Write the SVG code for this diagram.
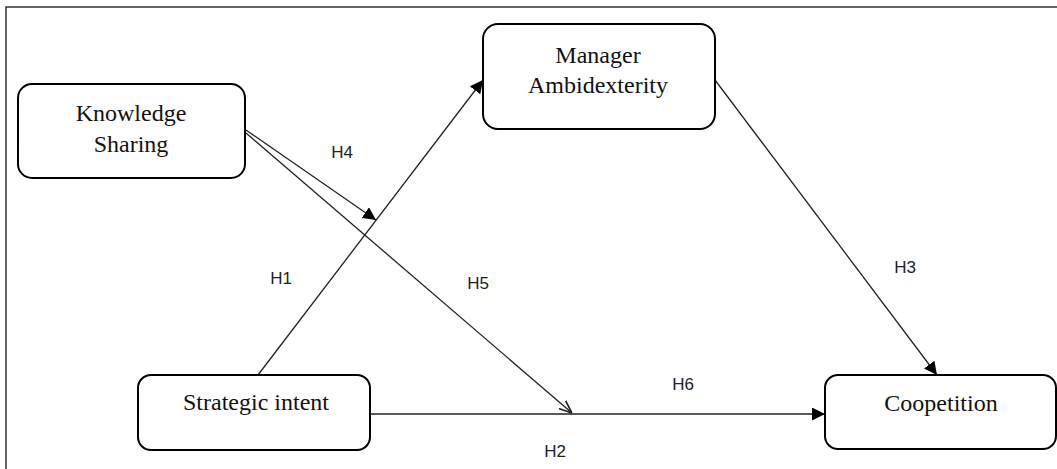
<svg xmlns="http://www.w3.org/2000/svg" width="1057" height="469" viewBox="0 0 1057 469">
<defs>
<style>
.node{fill:#fff;stroke:#000;stroke-width:2}
.nt{font-family:"Liberation Serif","Times New Roman",serif;font-size:24px;fill:#111;text-anchor:middle}
.lb{font-family:"Liberation Sans",Arial,sans-serif;font-size:17px;fill:#222;text-anchor:middle}
.ln{stroke:#222;stroke-width:1.3;fill:none}
</style>
<marker id="arr" viewBox="0 0 10 10" refX="10" refY="5" markerWidth="13" markerHeight="13" markerUnits="userSpaceOnUse" orient="auto">
<path d="M0,0 L10,5 L0,10 z" fill="#000"/>
</marker>
<marker id="open" viewBox="0 0 10 10" refX="10" refY="5" markerWidth="13" markerHeight="13" markerUnits="userSpaceOnUse" orient="auto">
<path d="M0,1 L10,5 L0,9" fill="none" stroke="#222" stroke-width="1.3"/>
</marker>
</defs>
<rect width="1057" height="469" fill="#fff"/>
<rect x="6" y="7" width="1060" height="470" fill="none" stroke="#333" stroke-width="1.5"/>
<g id="connectors">
<line class="ln" x1="258" y1="375" x2="483" y2="80" marker-end="url(#arr)"/>
<line class="ln" x1="246" y1="130" x2="376" y2="220" marker-end="url(#arr)"/>
<line class="ln" x1="246" y1="133" x2="572" y2="413" marker-end="url(#open)"/>
<line class="ln" x1="370" y1="414" x2="825" y2="414" marker-end="url(#arr)"/>
<line class="ln" x1="715" y1="80" x2="937" y2="375" marker-end="url(#arr)"/>
</g>
<g id="labels">
<text class="lb" x="342" y="158">H4</text>
<text class="lb" x="281" y="284">H1</text>
<text class="lb" x="478" y="289">H5</text>
<text class="lb" x="905" y="273">H3</text>
<text class="lb" x="683" y="390">H6</text>
<text class="lb" x="555" y="457">H2</text>
</g>
<g id="knowledge-sharing">
<rect class="node" x="18" y="84" width="227" height="94" rx="14"/>
<text class="nt" x="131" y="121">Knowledge</text>
<text class="nt" x="131" y="152">Sharing</text>
</g>
<g id="manager-ambidexterity">
<rect class="node" x="483" y="24" width="232" height="105" rx="15"/>
<text class="nt" x="598" y="63">Manager</text>
<text class="nt" x="598" y="93">Ambidexterity</text>
</g>
<g id="strategic-intent">
<rect class="node" x="138" y="375" width="232" height="75" rx="13"/>
<text class="nt" x="256" y="410">Strategic intent</text>
</g>
<g id="coopetition">
<rect class="node" x="825" y="375" width="231" height="74" rx="13"/>
<text class="nt" x="941" y="411">Coopetition</text>
</g>
</svg>
